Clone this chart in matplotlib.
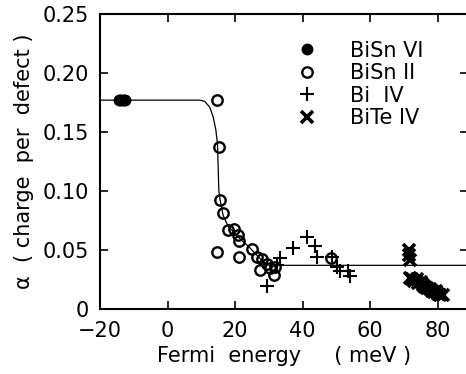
import matplotlib.pyplot as plt

# BiSn VI (filled circles)
bisn6_x = [-14.5, -14.0, -13.5, -13.0, -12.5]
bisn6_y = [0.177, 0.177, 0.177, 0.177, 0.177]

# BiSn II (open circles)
bisn2_x = [14.6, 15.3, 15.6, 16.5, 14.6, 17.8, 19.8, 20.8, 21.2, 21.2,
           25.1, 26.4, 28.1, 27.4, 29.4, 30.4, 31.6, 31.9, 48.3]
bisn2_y = [0.177, 0.137, 0.092, 0.081, 0.048, 0.067, 0.0675, 0.063, 0.058, 0.044,
           0.051, 0.044, 0.042, 0.033, 0.038, 0.0345, 0.029, 0.036, 0.043]

# Bi IV (plus)
bi4_x = [29.5, 32.3, 33.3, 37.3, 41.2, 43.7, 44.2, 48.6, 50.1, 51.1, 53.6, 54.1]
bi4_y = [0.0195, 0.037, 0.043, 0.052, 0.061, 0.053, 0.044, 0.044, 0.036, 0.032, 0.032, 0.028]

# BiTe IV (crosses)
bite4_x = [71.4, 71.6, 71.9, 71.9, 72.5, 73.0, 73.8, 74.3, 75.0, 75.6, 76.3,
           77.0, 77.8, 78.4, 79.0, 79.6, 80.2, 80.8, 81.5]
bite4_y = [0.050, 0.046, 0.0415, 0.026, 0.025, 0.024, 0.025, 0.022, 0.023, 0.020, 0.019,
           0.018, 0.017, 0.015, 0.014, 0.015, 0.013, 0.012, 0.012]

# fitted curve
line_x = [-20, 9.5, 11, 12.5, 13.5, 14.3, 14.8, 15.0, 15.2, 15.6, 16.5, 18, 20,
          22, 24, 26, 28, 30, 90]
line_y = [0.177, 0.177, 0.176, 0.171, 0.163, 0.152, 0.14, 0.12, 0.10, 0.092, 0.079,
          0.070, 0.064, 0.058, 0.053, 0.047, 0.041, 0.037, 0.037]

plt.rcParams['font.family'] = ['DejaVu Sans']
plt.rcParams['font.size'] = 15

fig = plt.figure(figsize=(4.66, 3.74), dpi=100)
ax = fig.add_axes([0.2146, 0.1738, 0.7897, 0.7888])

ax.plot(line_x, line_y, 'k-', lw=0.9)
ax.plot(bisn6_x, bisn6_y, 'o', color='k', ms=7.5, label='BiSn VI')
ax.plot(bisn2_x, bisn2_y, 'o', mfc='none', mec='k', ms=7.5, mew=1.7, label='BiSn II')
ax.plot(bi4_x, bi4_y, '+', color='k', ms=10, mew=1.5, label='Bi  IV')
ax.plot(bite4_x, bite4_y, 'x', color='k', ms=8, mew=2.6, label='BiTe IV')

ax.set_xlim(-20, 89)
ax.set_ylim(0, 0.25)
ax.set_xticks([-20, 0, 20, 40, 60, 80])
ax.set_yticks([0, 0.05, 0.10, 0.15, 0.20, 0.25])
ax.set_yticklabels(['0', '0.05', '0.10', '0.15', '0.20', '0.25'])
ax.tick_params(direction='in', length=6, width=1.2, top=True, right=True)
ax.tick_params(axis='x', pad=9)
ax.tick_params(axis='y', pad=8)
for s in ax.spines.values():
    s.set_linewidth(1.5)

ax.set_xlabel('Fermi  energy     ( meV )', labelpad=3)
ax.set_ylabel('α  ( charge  per  defect )', labelpad=6)

ax.legend(loc='upper left', bbox_to_anchor=(0.505, 0.945), frameon=False,
          handlelength=1.0, handletextpad=1.6, labelspacing=0.12, borderpad=0)

plt.savefig('out.png', dpi=100)
